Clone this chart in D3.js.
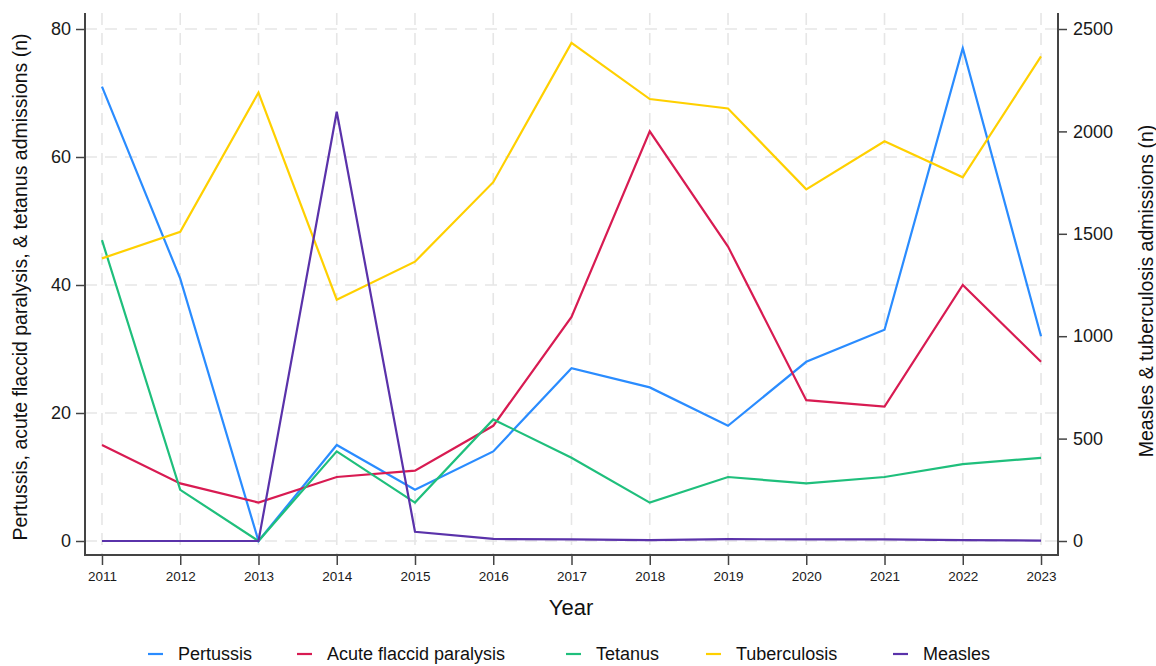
<!DOCTYPE html>
<html>
<head>
<meta charset="utf-8">
<script src="https://cdn.jsdelivr.net/npm/d3@7"></script>
<style>
  html, body { margin: 0; padding: 0; background: #fff; }
  svg { display: block; font-family: "Liberation Sans", Arial, sans-serif; }
</style>
</head>
<body>
<svg id="chart" width="1156" height="666"></svg>
<script>
// Annual admissions, 2011–2023
const years = [2011, 2012, 2013, 2014, 2015, 2016, 2017, 2018, 2019, 2020, 2021, 2022, 2023];

// Left axis series
const pertussis = [71, 41, 0, 15, 8, 14, 27, 24, 18, 28, 33, 77, 32];
const acuteFlaccidParalysis = [15, 9, 6, 10, 11, 18, 35, 64, 46, 22, 21, 40, 28];
const tetanus = [47, 8, 0, 14, 6, 19, 13, 6, 10, 9, 10, 12, 13];

// Right axis series
const tuberculosis = [1380, 1510, 2190, 1178, 1364, 1752, 2432, 2158, 2112, 1717, 1952, 1776, 2366];
const measles = [0, 0, 0, 2096, 45, 10, 8, 4, 9, 8, 8, 4, 2];

const leftTicks = [0, 20, 40, 60, 80];
const rightTicks = [0, 500, 1000, 1500, 2000, 2500];

const seriesList = [
  { name: "Pertussis", values: pertussis, axis: "left", color: "#2a8cff" },
  { name: "Acute flaccid paralysis", values: acuteFlaccidParalysis, axis: "left", color: "#d81b52" },
  { name: "Tetanus", values: tetanus, axis: "left", color: "#1fbf7c" },
  { name: "Tuberculosis", values: tuberculosis, axis: "right", color: "#ffd000" },
  { name: "Measles", values: measles, axis: "right", color: "#5a32aa" }
];

const svg = d3.select("#chart");

// Plot frame
const frame = { left: 85, right: 1058, top: 13, bottom: 555 };

// Scales: the frame is padded a little beyond the data range
const x = d3.scaleLinear().domain([2010.783, 2023.217]).range([frame.left, frame.right]);
const yL = d3.scaleLinear().domain([-2.1875, 82.5]).range([frame.bottom, frame.top]);
const yR = d3.scaleLinear().domain([-2.1875 * 31.25, 82.5 * 31.25]).range([frame.bottom, frame.top]);

// Dashed grid
const grid = svg.append("g").attr("stroke", "#e6e6e6").attr("stroke-width", 1.6)
  .attr("stroke-dasharray", "12,8").attr("fill", "none");
years.forEach(yr => {
  grid.append("line").attr("x1", x(yr)).attr("x2", x(yr))
    .attr("y1", frame.top).attr("y2", frame.bottom);
});
leftTicks.forEach(v => {
  grid.append("line").attr("x1", frame.left).attr("x2", frame.right)
    .attr("y1", yL(v)).attr("y2", yL(v));
});

// Lines
const plot = svg.append("g");
seriesList.forEach(s => {
  const yScale = s.axis === "left" ? yL : yR;
  const line = d3.line().x((d, i) => x(years[i])).y(d => yScale(d));
  plot.append("path").datum(s.values)
    .attr("d", line)
    .attr("fill", "none")
    .attr("stroke", s.color)
    .attr("stroke-width", 2.2)
    .attr("stroke-linejoin", "miter");
});

// Axes
const axisColor = "#444";
function styleAxis(g, fontSize) {
  g.select(".domain").remove();
  g.selectAll(".tick line").attr("stroke", axisColor).attr("stroke-width", 1.5);
  g.selectAll(".tick text").attr("fill", "#1a1a1a").style("font-size", fontSize)
    .style("font-family", "'Liberation Sans', Arial, sans-serif");
}

const gx = svg.append("g").attr("transform", `translate(0,${frame.bottom})`)
  .call(d3.axisBottom(x).tickValues(years).tickFormat(d3.format("d")).tickSize(10).tickPadding(6));
styleAxis(gx, "13.5px");

const gl = svg.append("g").attr("transform", `translate(${frame.left},0)`)
  .call(d3.axisLeft(yL).tickValues(leftTicks).tickFormat(d3.format("d")).tickSize(9).tickPadding(5));
styleAxis(gl, "18px");

const gr = svg.append("g").attr("transform", `translate(${frame.right},0)`)
  .call(d3.axisRight(yR).tickValues(rightTicks).tickFormat(d3.format("d")).tickSize(9).tickPadding(6));
styleAxis(gr, "18px");

// Axis lines (left, bottom, right)
svg.append("path")
  .attr("d", `M${frame.left},${frame.top}V${frame.bottom}H${frame.right}V${frame.top}`)
  .attr("fill", "none").attr("stroke", axisColor).attr("stroke-width", 2);

// Axis titles
svg.append("text").attr("x", 571).attr("y", 615).attr("text-anchor", "middle")
  .style("font-size", "22px").attr("fill", "#111").text("Year");

svg.append("text").attr("transform", "translate(27,287) rotate(-90)")
  .attr("text-anchor", "middle").style("font-size", "19.5px").attr("fill", "#111")
  .text("Pertussis, acute flaccid paralysis, & tetanus admissions (n)");

svg.append("text").attr("transform", "translate(1153,291) rotate(-90)")
  .attr("text-anchor", "middle").style("font-size", "19.5px").attr("fill", "#111")
  .text("Measles & tuberculosis admissions (n)");

// Legend
const legendX = [148, 297, 566, 706, 893];
const legend = svg.append("g");
seriesList.forEach((s, i) => {
  const lx = legendX[i];
  legend.append("line").attr("x1", lx).attr("x2", lx + 15)
    .attr("y1", 654).attr("y2", 654)
    .attr("stroke", s.color).attr("stroke-width", 2.2);
  legend.append("text").attr("x", lx + 30).attr("y", 660)
    .style("font-size", "18px").attr("fill", "#111").text(s.name);
});
</script>
</body>
</html>
